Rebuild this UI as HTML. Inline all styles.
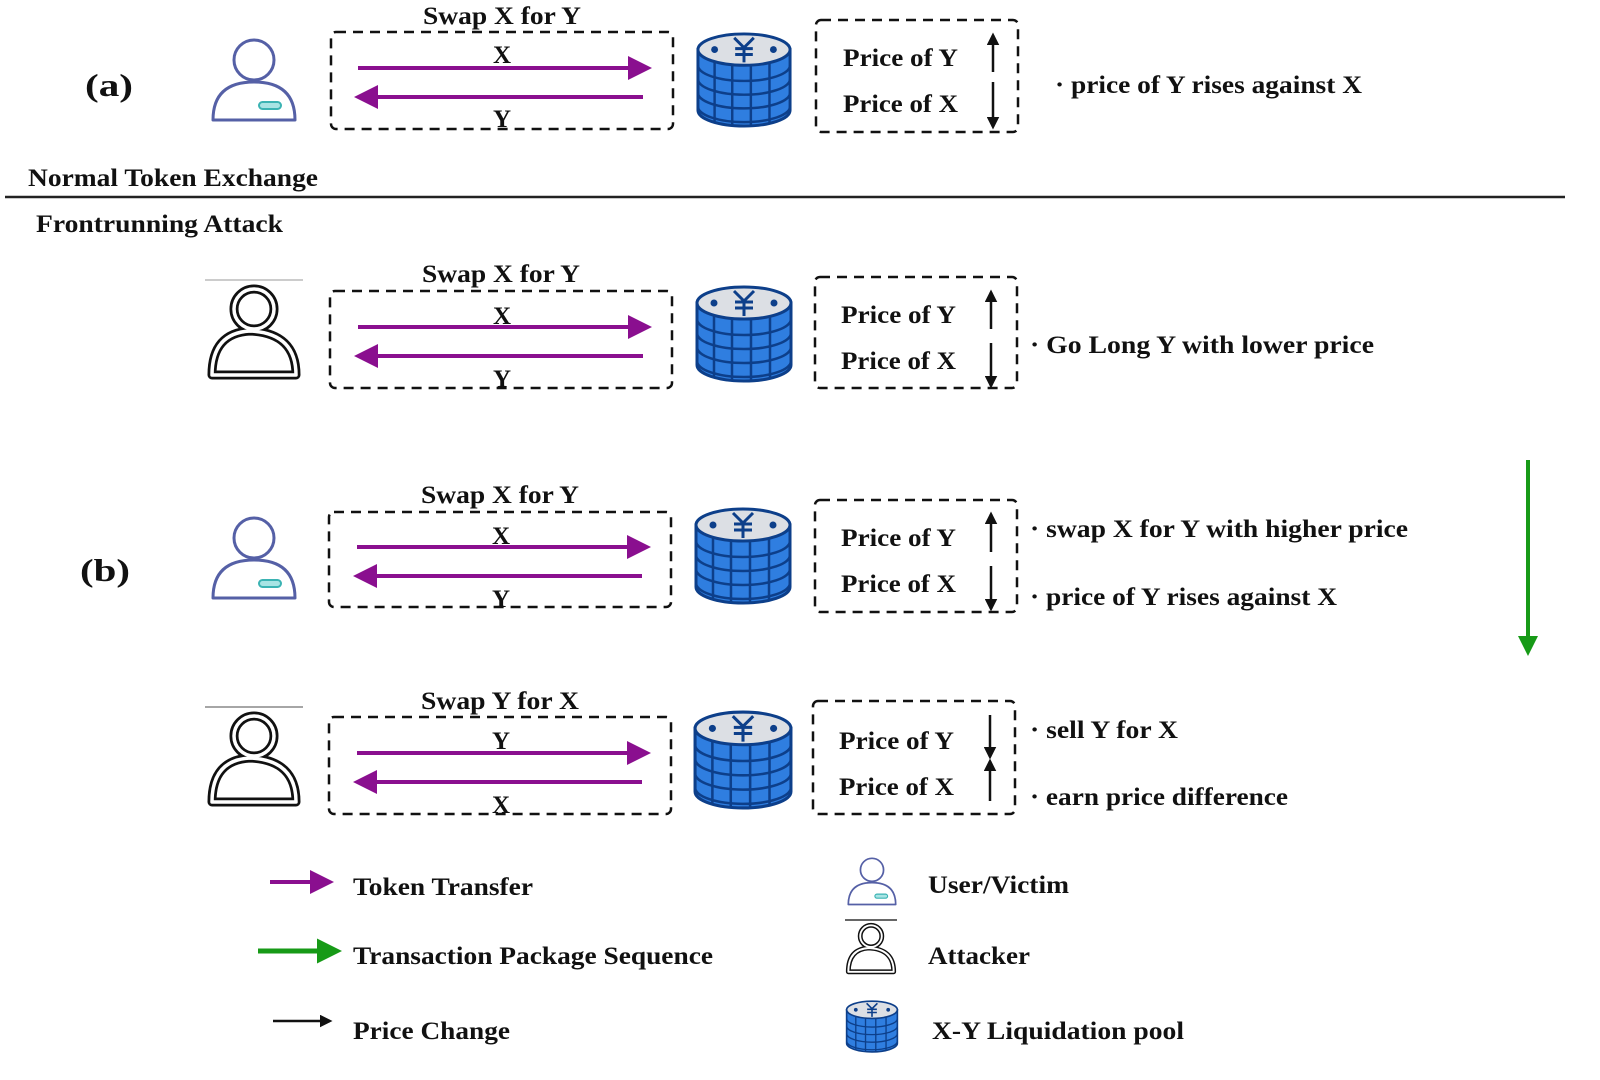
<!DOCTYPE html>
<html><head><meta charset="utf-8"><style>
html,body{margin:0;padding:0;background:#fff;width:1600px;height:1080px;overflow:hidden}
text{font-family:"Liberation Serif",serif;font-weight:bold;fill:#111}
</style></head><body>
<svg width="1600" height="1080" viewBox="0 0 1600 1080" xmlns="http://www.w3.org/2000/svg">
<defs>
<marker id="pa" markerWidth="6" markerHeight="6" refX="5" refY="3" orient="auto" markerUnits="strokeWidth"><path d="M0,0 L6,3 L0,6 Z" fill="#8a0f8f"/></marker>
<marker id="ka" markerWidth="5" markerHeight="5" refX="4" refY="2.5" orient="auto" markerUnits="strokeWidth"><path d="M0,0 L5,2.5 L0,5 Z" fill="#111"/></marker>
<marker id="ga" markerWidth="5" markerHeight="5" refX="4" refY="2.5" orient="auto" markerUnits="strokeWidth"><path d="M0,0 L5,2.5 L0,5 Z" fill="#179a17"/></marker>
<symbol id="user" viewBox="0 0 90 90">
<circle cx="45" cy="24" r="20" fill="#fff" stroke="#5560a6" stroke-width="3"/>
<path d="M4 84 Q4 46 45 46 Q86 46 86 84 Z" fill="#fff" stroke="#5560a6" stroke-width="3" stroke-linejoin="round"/>
<rect x="50" y="66" width="22" height="7" rx="3.5" fill="#a8e4e4" stroke="#3bb3b3" stroke-width="2"/>
</symbol>
<symbol id="att" viewBox="0 0 100 100">
<g fill="none" stroke-linejoin="round">
<g stroke="#111" stroke-width="9">
<circle cx="50" cy="28" r="20"/>
<path d="M8 94 Q8 52 46 50 Q92 52 92 94 Z"/>
</g>
<g stroke="#fff" stroke-width="3.5">
<circle cx="50" cy="28" r="20"/>
<path d="M8 94 Q8 52 46 50 Q92 52 92 94 Z"/>
</g>
</g>
</symbol>
<symbol id="pool" viewBox="0 0 100 100">
<path d="M3 20 L3 82 A47 16 0 0 0 97 82 L97 20 Z" fill="#2f7ee0" stroke="#0d3f8a" stroke-width="3"/>
<g stroke="#0d3f8a" stroke-width="2.5" fill="none">
<path d="M3 36 A47 16 0 0 0 97 36"/><path d="M3 50 A47 16 0 0 0 97 50"/><path d="M3 64 A47 16 0 0 0 97 64"/><path d="M3 78 A47 16 0 0 0 97 78"/>
<line x1="20" y1="30" x2="20" y2="93"/><line x1="38" y1="34" x2="38" y2="97"/><line x1="57" y1="34" x2="57" y2="97"/><line x1="76" y1="32" x2="76" y2="95"/>
</g>
<ellipse cx="50" cy="20" rx="47" ry="16" fill="#dcdfe4" stroke="#0d3f8a" stroke-width="3"/>
<circle cx="20" cy="20" r="3.5" fill="#0d3f8a"/><circle cx="80" cy="20" r="3.5" fill="#0d3f8a"/>
<g stroke="#0d3f8a" stroke-width="3" fill="none"><path d="M40 8 L50 18 L60 8 M50 18 L50 33 M41 19 L59 19 M41 25 L59 25"/></g>
</symbol>
</defs>

<text x="85" y="96" font-size="32" textLength="48" lengthAdjust="spacingAndGlyphs">(a)</text>
<text x="80" y="581" font-size="32" textLength="50" lengthAdjust="spacingAndGlyphs">(b)</text>
<text x="28" y="186" font-size="25" textLength="290" lengthAdjust="spacingAndGlyphs">Normal Token Exchange</text>
<line x1="5" y1="197" x2="1565" y2="197" stroke="#222" stroke-width="2.5"/>
<text x="36" y="232" font-size="25" textLength="247" lengthAdjust="spacingAndGlyphs">Frontrunning Attack</text>

<use href="#user" x="209" y="36" width="90" height="90"/>
<line x1="205" y1="280" x2="303" y2="280" stroke="#bbb" stroke-width="1.5"/>
<use href="#att" x="204" y="281" width="100" height="100"/>
<use href="#user" x="209" y="514" width="90" height="90"/>
<line x1="205" y1="707" x2="303" y2="707" stroke="#888" stroke-width="1.5"/>
<use href="#att" x="204" y="708" width="100" height="100"/>

<g transform="translate(0,32)">
<text x="423" y="-8" font-size="25" font-weight="normal" textLength="158" lengthAdjust="spacingAndGlyphs">Swap X for Y</text>
<rect x="331" y="0" width="342" height="97" rx="5" fill="none" stroke="#111" stroke-width="2.5" stroke-dasharray="10,7"/>
<line x1="358" y1="36" x2="648" y2="36" stroke="#8a0f8f" stroke-width="4" marker-end="url(#pa)"/>
<line x1="643" y1="65" x2="358" y2="65" stroke="#8a0f8f" stroke-width="4" marker-end="url(#pa)"/>
<text x="502" y="31" font-size="25" text-anchor="middle" font-weight="normal">X</text>
<text x="502" y="95" font-size="25" text-anchor="middle" font-weight="normal">Y</text>
<use href="#pool" x="693" y="-2" width="102" height="98"/>
<rect x="816" y="-12" width="202" height="112" rx="5" fill="none" stroke="#111" stroke-width="2.5" stroke-dasharray="10,7"/>
<text x="843" y="34" font-size="25" textLength="115" lengthAdjust="spacingAndGlyphs">Price of Y</text>
<text x="843" y="80" font-size="25" textLength="115" lengthAdjust="spacingAndGlyphs">Price of X</text>
<line x1="993" y1="40" x2="993" y2="3" stroke="#111" stroke-width="2.5" marker-end="url(#ka)"/>
<line x1="993" y1="50" x2="993" y2="95" stroke="#111" stroke-width="2.5" marker-end="url(#ka)"/>
</g>
<text x="1055" y="93" font-size="25" textLength="307" lengthAdjust="spacingAndGlyphs">· price of Y rises against X</text>

<g transform="translate(0,291)">
<text x="422" y="-9" font-size="25" font-weight="normal" textLength="158" lengthAdjust="spacingAndGlyphs">Swap X for Y</text>
<rect x="330" y="0" width="342" height="97" rx="5" fill="none" stroke="#111" stroke-width="2.5" stroke-dasharray="10,7"/>
<line x1="358" y1="36" x2="648" y2="36" stroke="#8a0f8f" stroke-width="4" marker-end="url(#pa)"/>
<line x1="643" y1="65" x2="358" y2="65" stroke="#8a0f8f" stroke-width="4" marker-end="url(#pa)"/>
<text x="502" y="33" font-size="25" text-anchor="middle" font-weight="normal">X</text>
<text x="502" y="96" font-size="25" text-anchor="middle" font-weight="normal">Y</text>
<use href="#pool" x="693" y="-8" width="102" height="100"/>
<rect x="815" y="-14" width="202" height="111" rx="5" fill="none" stroke="#111" stroke-width="2.5" stroke-dasharray="10,7"/>
<text x="841" y="32" font-size="25" textLength="115" lengthAdjust="spacingAndGlyphs">Price of Y</text>
<text x="841" y="78" font-size="25" textLength="115" lengthAdjust="spacingAndGlyphs">Price of X</text>
<line x1="991" y1="38" x2="991" y2="1" stroke="#111" stroke-width="2.5" marker-end="url(#ka)"/>
<line x1="991" y1="52" x2="991" y2="95" stroke="#111" stroke-width="2.5" marker-end="url(#ka)"/>
</g>
<text x="1030" y="353" font-size="25" textLength="344" lengthAdjust="spacingAndGlyphs">· Go Long Y with lower price</text>

<g transform="translate(0,512)">
<text x="421" y="-9" font-size="25" font-weight="normal" textLength="158" lengthAdjust="spacingAndGlyphs">Swap X for Y</text>
<rect x="329" y="0" width="342" height="95" rx="5" fill="none" stroke="#111" stroke-width="2.5" stroke-dasharray="10,7"/>
<line x1="357" y1="35" x2="647" y2="35" stroke="#8a0f8f" stroke-width="4" marker-end="url(#pa)"/>
<line x1="642" y1="64" x2="357" y2="64" stroke="#8a0f8f" stroke-width="4" marker-end="url(#pa)"/>
<text x="501" y="32" font-size="25" text-anchor="middle" font-weight="normal">X</text>
<text x="501" y="95" font-size="25" text-anchor="middle" font-weight="normal">Y</text>
<use href="#pool" x="692" y="-7" width="102" height="100"/>
<rect x="815" y="-12" width="202" height="112" rx="5" fill="none" stroke="#111" stroke-width="2.5" stroke-dasharray="10,7"/>
<text x="841" y="34" font-size="25" textLength="115" lengthAdjust="spacingAndGlyphs">Price of Y</text>
<text x="841" y="80" font-size="25" textLength="115" lengthAdjust="spacingAndGlyphs">Price of X</text>
<line x1="991" y1="40" x2="991" y2="2" stroke="#111" stroke-width="2.5" marker-end="url(#ka)"/>
<line x1="991" y1="54" x2="991" y2="97" stroke="#111" stroke-width="2.5" marker-end="url(#ka)"/>
</g>
<text x="1030" y="537" font-size="25" textLength="378" lengthAdjust="spacingAndGlyphs">· swap X for Y with higher price</text>
<text x="1030" y="605" font-size="25" textLength="307" lengthAdjust="spacingAndGlyphs">· price of Y rises against X</text>

<g transform="translate(0,717)">
<text x="421" y="-8" font-size="25" font-weight="normal" textLength="158" lengthAdjust="spacingAndGlyphs">Swap Y for X</text>
<rect x="329" y="0" width="342" height="97" rx="5" fill="none" stroke="#111" stroke-width="2.5" stroke-dasharray="10,7"/>
<line x1="357" y1="36" x2="647" y2="36" stroke="#8a0f8f" stroke-width="4" marker-end="url(#pa)"/>
<line x1="642" y1="65" x2="357" y2="65" stroke="#8a0f8f" stroke-width="4" marker-end="url(#pa)"/>
<text x="501" y="32" font-size="25" text-anchor="middle" font-weight="normal">Y</text>
<text x="501" y="96" font-size="25" text-anchor="middle" font-weight="normal">X</text>
<use href="#pool" x="692" y="-9" width="102" height="102"/>
<rect x="813" y="-16" width="202" height="113" rx="5" fill="none" stroke="#111" stroke-width="2.5" stroke-dasharray="10,7"/>
<text x="839" y="32" font-size="25" textLength="115" lengthAdjust="spacingAndGlyphs">Price of Y</text>
<text x="839" y="78" font-size="25" textLength="115" lengthAdjust="spacingAndGlyphs">Price of X</text>
<line x1="990" y1="-2" x2="990" y2="40" stroke="#111" stroke-width="2.5" marker-end="url(#ka)"/>
<line x1="990" y1="84" x2="990" y2="44" stroke="#111" stroke-width="2.5" marker-end="url(#ka)"/>
</g>
<text x="1030" y="738" font-size="25" textLength="148" lengthAdjust="spacingAndGlyphs">· sell Y for X</text>
<text x="1030" y="805" font-size="25" textLength="258" lengthAdjust="spacingAndGlyphs">· earn price difference</text>

<line x1="1528" y1="460" x2="1528" y2="652" stroke="#179a17" stroke-width="4" marker-end="url(#ga)"/>

<line x1="270" y1="882" x2="330" y2="882" stroke="#8a0f8f" stroke-width="4" marker-end="url(#pa)"/>
<text x="353" y="895" font-size="25" textLength="180" lengthAdjust="spacingAndGlyphs">Token Transfer</text>
<line x1="258" y1="951" x2="337" y2="951" stroke="#179a17" stroke-width="5" marker-end="url(#ga)"/>
<text x="353" y="964" font-size="25" textLength="360" lengthAdjust="spacingAndGlyphs">Transaction Package Sequence</text>
<line x1="273" y1="1021" x2="330" y2="1021" stroke="#111" stroke-width="2.5" marker-end="url(#ka)"/>
<text x="353" y="1039" font-size="25" textLength="157" lengthAdjust="spacingAndGlyphs">Price Change</text>
<use href="#user" x="846" y="856" width="52" height="52"/>
<text x="928" y="893" font-size="25" textLength="141" lengthAdjust="spacingAndGlyphs">User/Victim</text>
<line x1="845" y1="920" x2="897" y2="920" stroke="#333" stroke-width="1.5"/>
<use href="#att" x="844" y="921" width="54" height="54"/>
<text x="928" y="964" font-size="25" textLength="102" lengthAdjust="spacingAndGlyphs">Attacker</text>
<use href="#pool" x="845" y="998" width="54" height="56"/>
<text x="932" y="1039" font-size="25" textLength="252" lengthAdjust="spacingAndGlyphs">X-Y Liquidation pool</text>
</svg>
</body></html>
